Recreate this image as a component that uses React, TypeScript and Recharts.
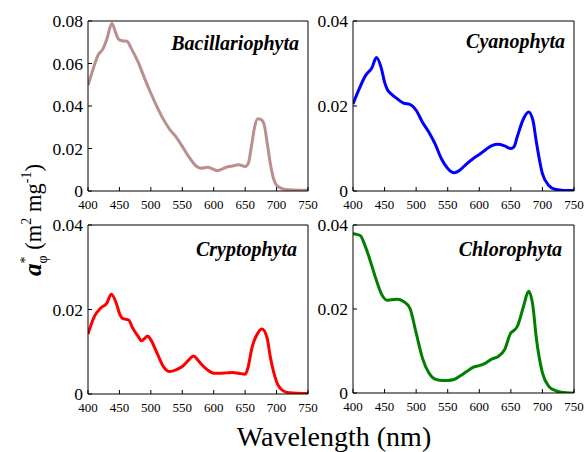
import React from 'react';
import { LineChart, Line, XAxis, YAxis } from 'recharts';

const xTicks = [400, 450, 500, 550, 600, 650, 700, 750];
const yTicksBac = [0, 0.02, 0.04, 0.06, 0.08];
const yTicksSmall = [0, 0.02, 0.04];

const bacWl = [400,406,411,416,424,430,438,444,448,454,462,469,480,490,500,510,520,530,540,550,560,570,580,590,600,605,610,620,630,640,650,655,660,665,670,675,680,685,690,695,700,710,720,750];
const bacVal = [0.0497,0.0554,0.060,0.0639,0.067,0.0715,0.0788,0.0745,0.0717,0.0707,0.0705,0.067,0.0605,0.053,0.046,0.0395,0.0337,0.029,0.0255,0.021,0.0163,0.0123,0.0107,0.0112,0.0102,0.0096,0.0099,0.0112,0.0118,0.0123,0.0115,0.013,0.021,0.030,0.034,0.0337,0.0315,0.0227,0.013,0.006,0.0027,0.001,0.0006,0.0003];

const cyaWl = [400,410,420,430,437,445,450,455,460,470,480,490,500,510,520,530,540,550,560,570,580,590,600,610,620,630,640,650,655,660,670,678,685,690,700,710,720,730,750];
const cyaVal = [0.0205,0.0241,0.0272,0.029,0.0314,0.0288,0.0256,0.0237,0.0229,0.0217,0.0207,0.0204,0.019,0.0162,0.0139,0.0111,0.0076,0.0053,0.0043,0.005,0.0064,0.0076,0.0086,0.0097,0.0107,0.011,0.0106,0.010,0.0104,0.0127,0.017,0.0186,0.0166,0.0119,0.0041,0.0013,0.0004,0.0002,0.0001];

const cryWl = [400,410,420,430,437,445,450,455,465,470,480,485,495,500,510,520,530,540,550,560,568,575,580,590,600,610,620,630,640,650,655,660,670,677,685,690,700,710,720,750];
const cryVal = [0.0142,0.0183,0.0203,0.0215,0.0236,0.0215,0.0191,0.0179,0.0175,0.0159,0.0136,0.0126,0.0137,0.0128,0.0096,0.0065,0.0053,0.0057,0.0065,0.008,0.009,0.008,0.0071,0.0057,0.0049,0.0049,0.005,0.0051,0.0049,0.0047,0.0065,0.0104,0.0144,0.0154,0.0132,0.0088,0.0029,0.0008,0.0003,0.0001];

const chlWl = [400,405,412,418,426,438,446,454,460,470,480,490,500,510,520,530,540,550,560,570,580,590,600,610,620,630,640,650,655,660,670,678,685,690,700,710,720,730,750];
const chlVal = [0.0379,0.0378,0.0374,0.0355,0.0321,0.0264,0.0233,0.0221,0.0222,0.0223,0.0218,0.0202,0.0143,0.0083,0.0048,0.0033,0.003,0.003,0.0032,0.0041,0.0051,0.0061,0.0065,0.0071,0.0081,0.0087,0.0103,0.0143,0.0149,0.0158,0.0206,0.0242,0.0206,0.0135,0.0048,0.0016,0.0006,0.0002,0.0];

const FONT = "'Liberation Serif', 'DejaVu Serif', 'Times New Roman', Times, serif";

const build = (wl: number[], v: number[]) => wl.map((w, i) => ({ wl: w, v: v[i] }));

const YW = 60;
const XH = 30;

type PanelProps = {
  wl: number[];
  vals: number[];
  color: string;
  yMax: number;
  yTicks: number[];
  left: number;
  top: number;
  w: number;
  h: number;
};

function Panel({ wl, vals, color, yMax, yTicks, left, top, w, h }: PanelProps) {
  const data = build(wl, vals);
  return (
    <div style={{ position: 'absolute', left: left - YW, top: top - 10, fontFamily: FONT }}>
      <LineChart
        width={w + YW + 10}
        height={h + 10 + XH}
        data={data}
        margin={{ top: 9, right: 9, left: 0, bottom: 0 }}
        style={{ fontFamily: FONT }}
      >
        <XAxis
          xAxisId="b"
          dataKey="wl"
          type="number"
          domain={[400, 750]}
          ticks={xTicks}
          interval={0}
          allowDataOverflow
          height={XH}
          tickSize={-4}
          tickMargin={13}
          axisLine={{ stroke: '#000' }}
          tickLine={{ stroke: '#000' }}
          tick={{ fontSize: 13, fill: '#000', fontFamily: FONT }}
        />
        <XAxis
          xAxisId="t"
          orientation="top"
          dataKey="wl"
          type="number"
          domain={[400, 750]}
          ticks={xTicks}
          interval={0}
          allowDataOverflow
          height={1}
          tickSize={-4}
          axisLine={{ stroke: '#000' }}
          tickLine={{ stroke: '#000' }}
          tick={false}
        />
        <YAxis
          yAxisId="l"
          type="number"
          domain={[0, yMax]}
          ticks={yTicks}
          interval={0}
          allowDataOverflow
          width={YW}
          tickSize={-4}
          tickMargin={9}
          axisLine={{ stroke: '#000' }}
          tickLine={{ stroke: '#000' }}
          tick={{ fontSize: 17.5, fill: '#000', fontFamily: FONT }}
          tickFormatter={(v: number) => (v === 0 ? '0' : v.toFixed(2))}
        />
        <YAxis
          yAxisId="r"
          orientation="right"
          type="number"
          domain={[0, yMax]}
          ticks={yTicks}
          interval={0}
          allowDataOverflow
          width={1}
          tickSize={-4}
          axisLine={{ stroke: '#000' }}
          tickLine={{ stroke: '#000' }}
          tick={false}
        />
        <Line
          xAxisId="b"
          yAxisId="l"
          dataKey="v"
          type="monotone"
          stroke={color}
          strokeWidth={3}
          dot={false}
          isAnimationActive={false}
        />
      </LineChart>
    </div>
  );
}

export default function App() {
  return (
    <div style={{ position: 'absolute', left: 0, top: 0, width: 585, height: 452, background: '#fff', overflow: 'hidden', fontFamily: FONT }}>
      <Panel wl={bacWl} vals={bacVal} color="#BC8F8F" yMax={0.08} yTicks={yTicksBac} left={88} top={21} w={220} h={170} />
      <Panel wl={cyaWl} vals={cyaVal} color="#0000FF" yMax={0.04} yTicks={yTicksSmall} left={353} top={21} w={221} h={170} />
      <Panel wl={cryWl} vals={cryVal} color="#FF0000" yMax={0.04} yTicks={yTicksSmall} left={88} top={225} w={220} h={169} />
      <Panel wl={chlWl} vals={chlVal} color="#008000" yMax={0.04} yTicks={yTicksSmall} left={353} top={225} w={221} h={168} />
      <svg width={585} height={452} fontFamily={FONT} style={{ position: 'absolute', left: 0, top: 0, pointerEvents: 'none' }}>
        <g fontWeight="bold" fontStyle="italic" fontSize={20} fill="#000" textAnchor="end">
          <text x={299} y={50}>Bacillariophyta</text>
          <text x={565} y={48}>Cyanophyta</text>
          <text x={297} y={256}>Cryptophyta</text>
          <text x={562} y={256}>Chlorophyta</text>
        </g>
        <text x={334} y={446} textAnchor="middle" fontSize={28} fill="#000">Wavelength (nm)</text>
        <text transform="translate(41,220) rotate(-90)" textAnchor="middle" fontSize={22.5} fill="#000">
          <tspan fontWeight="bold" fontStyle="italic" fontSize={25}>a</tspan>
          <tspan fontSize={14} dy={-11}>*</tspan>
          <tspan fontSize={14} dx={-7} dy={17}>φ</tspan>
          <tspan dy={-6}> (m</tspan>
          <tspan fontSize={14} dy={-10}>2</tspan>
          <tspan dy={10}> mg</tspan>
          <tspan fontSize={14} dy={-10}>-1</tspan>
          <tspan dy={10}>)</tspan>
        </text>
      </svg>
    </div>
  );
}
